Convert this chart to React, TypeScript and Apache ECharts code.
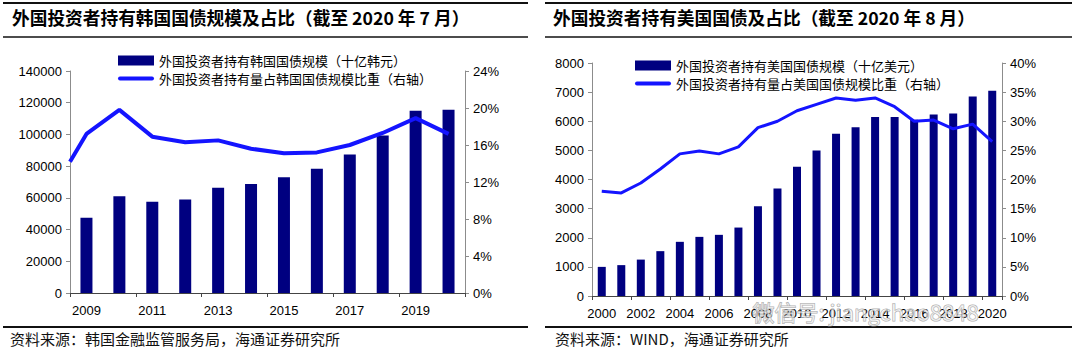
import React, { useEffect, useRef } from 'react';
import * as echarts from 'echarts';

// ---- Left chart: Korea ----
const koreaYears = ['2009', '2010', '2011', '2012', '2013', '2014', '2015', '2016', '2017', '2018', '2019', '2020'];
const koreaHoldings = [47500, 61000, 57600, 59000, 66400, 68700, 73000, 78400, 87400, 99400, 115000, 115600];
// share observations (x = year position, first one at end of 2008)
const koreaShareYears = [2008.5, 2009, 2010, 2011, 2012, 2013, 2014, 2015, 2016, 2017, 2018, 2019, 2020];
const koreaShare = [14.2, 17.2, 19.8, 16.9, 16.3, 16.5, 15.6, 15.1, 15.2, 16.0, 17.3, 18.9, 17.2];

// ---- Right chart: US ----
const usYears = ['2000', '2001', '2002', '2003', '2004', '2005', '2006', '2007', '2008', '2009', '2010', '2011', '2012', '2013', '2014', '2015', '2016', '2017', '2018', '2019', '2020'];
const usHoldings = [1000, 1060, 1250, 1540, 1860, 2030, 2100, 2350, 3080, 3690, 4440, 5000, 5570, 5790, 6150, 6150, 6050, 6230, 6270, 6850, 7050];
const usShare = [18.0, 17.7, 19.4, 21.8, 24.4, 24.9, 24.4, 25.6, 28.9, 30.0, 31.8, 32.9, 34.0, 33.6, 34.0, 32.5, 30.0, 30.2, 28.7, 29.5, 26.5];

const koreaBarName = '外国投资者持有韩国国债规模（十亿韩元）';
const koreaLineName = '外国投资者持有量占韩国国债规模比重（右轴）';
const usBarName = '外国投资者持有美国国债规模（十亿美元）';
const usLineName = '外国投资者持有量占美国国债规模比重（右轴）';

const leftTitle = '外国投资者持有韩国国债规模及占比（截至 2020 年 7 月）';
const rightTitle = '外国投资者持有美国国债及占比（截至 2020 年 8 月）';
const leftSource = '资料来源：韩国金融监管服务局，海通证券研究所';
const rightSource = '资料来源：WIND，海通证券研究所';
const watermark = '微信号: jiangchao8848';

const BAR = '#000080';
const LINE = '#1414ff';
const NUM_FONT = 'Liberation Sans, Arial, sans-serif';
const CJK_FONT = 'Noto Sans CJK SC, sans-serif';
const LINE_ICON = 'path://M2,0 L34,0 A2,2 0 0 1 34,4 L2,4 A2,2 0 0 1 2,0 Z';

const catAxis = (gridIndex: number, data: string[]) => ({
  type: 'category',
  gridIndex,
  data,
  boundaryGap: true,
  axisLine: { lineStyle: { color: '#444', width: 1 } },
  axisTick: { show: true, interval: 1, length: 4, lineStyle: { color: '#444' } },
  axisLabel: { interval: 1, color: '#000', fontSize: 13, fontFamily: NUM_FONT, margin: 11 },
  splitLine: { show: false },
});

const valAxis = (gridIndex: number, min: number, max: number, interval: number, position: string, pct: boolean) => ({
  type: 'value',
  gridIndex,
  position,
  min,
  max,
  interval,
  axisLine: { show: true, lineStyle: { color: '#8c8c8c', width: 1 } },
  axisTick: { show: true, length: 4, lineStyle: { color: '#8c8c8c' } },
  axisLabel: {
    color: '#000',
    fontSize: 13,
    fontFamily: NUM_FONT,
    margin: 8,
    formatter: (v: number) => (pct ? `${v}%` : String(v)),
  },
  splitLine: { show: false },
});

export default function App() {
  const ref = useRef<HTMLDivElement>(null);
  useEffect(() => {
    document.body.style.margin = '0';
    const chart = echarts.init(ref.current!, null, { renderer: 'svg' });
    const option: any = {
      animation: false,
      backgroundColor: '#fff',
      grid: [
        { left: 70, top: 71, width: 395, height: 222 },
        { left: 592, top: 63, width: 410, height: 233 },
      ],
      xAxis: [
        catAxis(0, koreaYears),
        { type: 'value', gridIndex: 0, min: 2008.5, max: 2020.5, show: false },
        catAxis(1, usYears),
      ],
      yAxis: [
        valAxis(0, 0, 140000, 20000, 'left', false),
        valAxis(0, 0, 24, 4, 'right', true),
        valAxis(1, 0, 8000, 1000, 'left', false),
        valAxis(1, 0, 40, 5, 'right', true),
      ],
      legend: [
        {
          orient: 'vertical',
          left: 113,
          top: 49,
          itemWidth: 36,
          itemHeight: 10,
          itemGap: 5,
          textStyle: { fontSize: 13, fontFamily: CJK_FONT, color: '#000' },
          data: [{ name: koreaBarName, icon: 'rect' }, { name: koreaLineName, icon: LINE_ICON }],
        },
        {
          orient: 'vertical',
          left: 630,
          top: 54,
          itemWidth: 36,
          itemHeight: 10,
          itemGap: 5,
          textStyle: { fontSize: 13, fontFamily: CJK_FONT, color: '#000' },
          data: [{ name: usBarName, icon: 'rect' }, { name: usLineName, icon: LINE_ICON }],
        },
      ],
      series: [
        {
          name: koreaBarName,
          type: 'bar',
          xAxisIndex: 0,
          yAxisIndex: 0,
          data: koreaHoldings,
          barWidth: 12,
          itemStyle: { color: BAR },
        },
        {
          name: koreaLineName,
          type: 'line',
          xAxisIndex: 1,
          yAxisIndex: 1,
          data: koreaShareYears.map((y, i) => [y, koreaShare[i]]),
          symbol: 'none',
          lineStyle: { color: LINE, width: 4 },
          itemStyle: { color: LINE },
          z: 3,
        },
        {
          name: usBarName,
          type: 'bar',
          xAxisIndex: 2,
          yAxisIndex: 2,
          data: usHoldings,
          barWidth: 8,
          itemStyle: { color: BAR },
        },
        {
          name: usLineName,
          type: 'line',
          xAxisIndex: 2,
          yAxisIndex: 3,
          data: usShare,
          symbol: 'none',
          lineStyle: { color: LINE, width: 3 },
          itemStyle: { color: LINE },
          z: 3,
        },
      ],
      graphic: [
        // panel rules
        { type: 'line', shape: { x1: 3, y1: 3, x2: 528, y2: 3 }, style: { stroke: '#111', lineWidth: 2 } },
        { type: 'line', shape: { x1: 3, y1: 37, x2: 528, y2: 37 }, style: { stroke: '#111', lineWidth: 1.5 } },
        { type: 'line', shape: { x1: 3, y1: 327, x2: 528, y2: 327 }, style: { stroke: '#111', lineWidth: 2 } },
        { type: 'line', shape: { x1: 545, y1: 3, x2: 1072, y2: 3 }, style: { stroke: '#111', lineWidth: 2 } },
        { type: 'line', shape: { x1: 545, y1: 37, x2: 1072, y2: 37 }, style: { stroke: '#111', lineWidth: 1.5 } },
        { type: 'line', shape: { x1: 545, y1: 327, x2: 1072, y2: 327 }, style: { stroke: '#111', lineWidth: 2 } },
        // titles
        {
          type: 'text', left: 12, top: 8,
          style: { text: leftTitle, fontSize: 17.7, fontWeight: 'bold', fontFamily: CJK_FONT, fill: '#000' },
        },
        {
          type: 'text', left: 553, top: 8,
          style: { text: rightTitle, fontSize: 17.7, fontWeight: 'bold', fontFamily: CJK_FONT, fill: '#000' },
        },
        // sources
        {
          type: 'text', left: 10, top: 331,
          style: { text: leftSource, fontSize: 15, fontFamily: CJK_FONT, fill: '#111' },
        },
        {
          type: 'text', left: 555, top: 331,
          style: { text: rightSource, fontSize: 15, fontFamily: CJK_FONT, fill: '#111' },
        },
        // watermark
        {
          type: 'text', left: 752, top: 299, z: 100,
          style: {
            text: watermark, fontSize: 22, fontFamily: CJK_FONT,
            fill: 'rgba(255,255,255,0.55)', stroke: 'rgba(150,150,150,0.8)', lineWidth: 1,
          },
        },
      ],
    };
    chart.setOption(option);
    return () => chart.dispose();
  }, []);
  return <div ref={ref} style={{ width: 1080, height: 354 }} />;
}
